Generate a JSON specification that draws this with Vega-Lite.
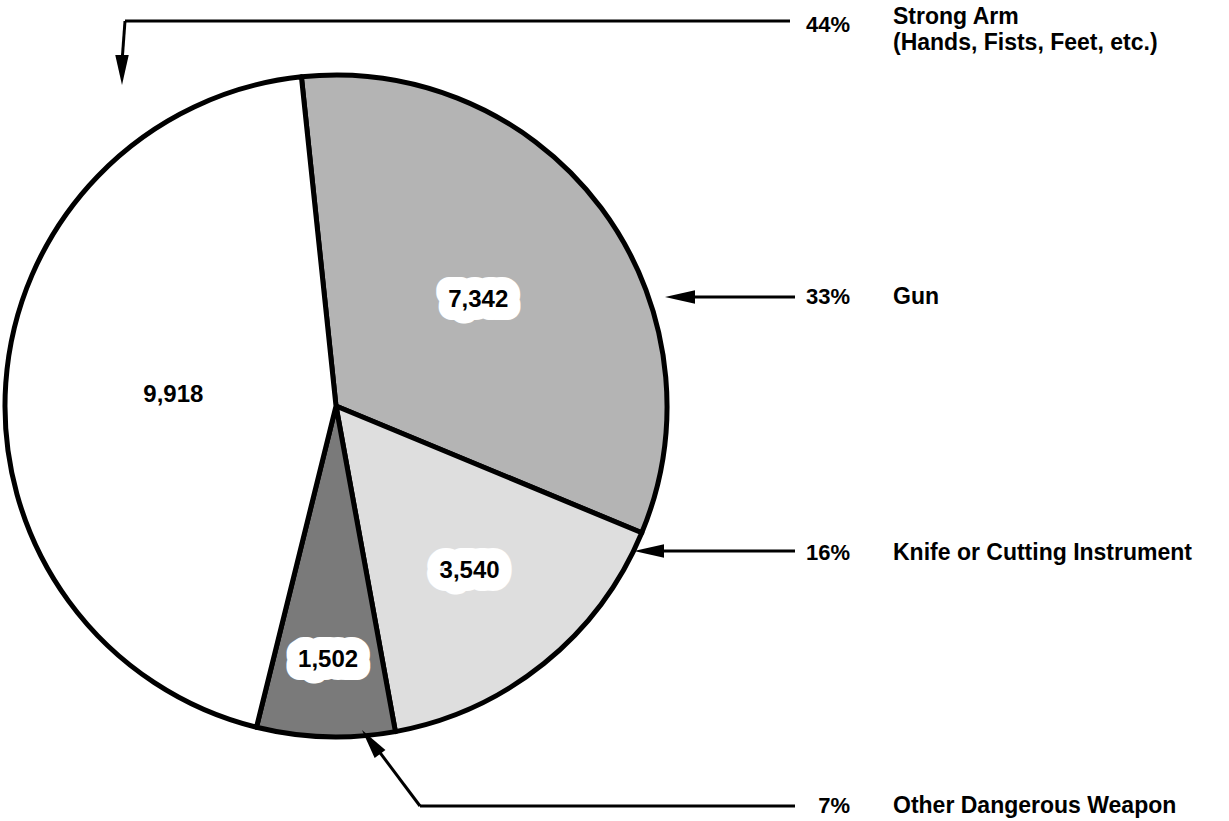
{
  "$schema": "https://vega.github.io/schema/vega-lite/v6.json",
  "width": 1229,
  "height": 821,
  "autosize": {"type": "fit", "contains": "padding"},
  "padding": 0,
  "background": "white",
  "config": {"view": {"stroke": null}, "font": "Liberation Sans"},
  "datasets": {
    "slices": [
      {"category": "Gun", "count": 7342, "pct": 33, "ord": 1},
      {"category": "Knife or Cutting Instrument", "count": 3540, "pct": 16, "ord": 2},
      {"category": "Other Dangerous Weapon", "count": 1502, "pct": 7, "ord": 3},
      {"category": "Strong Arm", "count": 9918, "pct": 44, "ord": 4}
    ],
    "leaders": [
      {"x": 790, "y": 21, "x2": 125, "y2": 21},
      {"x": 125, "y": 21, "x2": 122, "y2": 62},
      {"x": 690, "y": 297, "x2": 795, "y2": 297},
      {"x": 660, "y": 551, "x2": 795, "y2": 551},
      {"x": 420, "y": 806, "x2": 795, "y2": 806},
      {"x": 420, "y": 806, "x2": 372, "y2": 742}
    ],
    "heads": [
      {"x": 122, "y": 70, "angle": 180},
      {"x": 680, "y": 297, "angle": 270},
      {"x": 649, "y": 551, "angle": 270},
      {"x": 371, "y": 742, "angle": 323}
    ],
    "pcts": [
      {"label": "44%", "x": 850, "y": 25},
      {"label": "33%", "x": 850, "y": 297},
      {"label": "16%", "x": 850, "y": 553},
      {"label": "7%", "x": 850, "y": 806}
    ],
    "names": [
      {"label": "Strong Arm", "x": 893, "y": 17},
      {"label": "(Hands, Fists, Feet, etc.)", "x": 893, "y": 43},
      {"label": "Gun", "x": 893, "y": 297},
      {"label": "Knife or Cutting Instrument", "x": 893, "y": 553},
      {"label": "Other Dangerous Weapon", "x": 893, "y": 806}
    ]
  },
  "layer": [
    {
      "data": {"name": "slices"},
      "encoding": {
        "x": {"datum": 336, "type": "quantitative", "scale": {"domain": [0, 1229], "nice": false, "zero": false}, "axis": null},
        "y": {"datum": 406, "type": "quantitative", "scale": {"domain": [0, 821], "nice": false, "zero": false, "reverse": true}, "axis": null},
        "theta": {"field": "count", "type": "quantitative", "stack": true, "scale": {"range": [-0.1047, 6.1785]}},
        "order": {"field": "ord", "type": "quantitative", "sort": "ascending"}
      },
      "layer": [
        {
          "mark": {"type": "arc", "outerRadius": 331, "stroke": "black", "strokeWidth": 5, "strokeJoin": "round"},
          "encoding": {
            "fill": {
              "field": "category", "type": "nominal", "legend": null,
              "scale": {
                "domain": ["Gun", "Knife or Cutting Instrument", "Other Dangerous Weapon", "Strong Arm"],
                "range": ["#b4b4b4", "#dedede", "#7a7a7a", "#ffffff"]
              }
            }
          }
        },
        {
          "mark": {"type": "text", "fontWeight": "bold", "fontSize": 24, "fill": "white", "stroke": "white", "strokeWidth": 26, "strokeJoin": "round", "align": "center", "baseline": "middle"},
          "encoding": {
            "text": {"field": "count", "type": "quantitative", "format": ","},
            "radius": {"field": "count", "type": "quantitative", "scale": {"type": "log", "domain": [1502, 9918], "range": [254, 163]}}
          }
        },
        {
          "mark": {"type": "text", "fontWeight": "bold", "fontSize": 24, "fill": "black", "align": "center", "baseline": "middle"},
          "encoding": {
            "text": {"field": "count", "type": "quantitative", "format": ","},
            "radius": {"field": "count", "type": "quantitative", "scale": {"type": "log", "domain": [1502, 9918], "range": [254, 163]}}
          }
        }
      ]
    },
    {
      "data": {"name": "leaders"},
      "mark": {"type": "rule", "stroke": "black", "strokeWidth": 3},
      "encoding": {
        "x": {"field": "x", "type": "quantitative", "scale": {"domain": [0, 1229], "nice": false, "zero": false}, "axis": null},
        "x2": {"field": "x2"},
        "y": {"field": "y", "type": "quantitative", "scale": {"domain": [0, 821], "nice": false, "zero": false, "reverse": true}, "axis": null},
        "y2": {"field": "y2"}
      }
    },
    {
      "data": {"name": "heads"},
      "mark": {"type": "point", "shape": "M0,-1L0.45,1L-0.45,1Z", "filled": true, "color": "black", "opacity": 1, "size": 900},
      "encoding": {
        "x": {"field": "x", "type": "quantitative", "scale": {"domain": [0, 1229], "nice": false, "zero": false}, "axis": null},
        "y": {"field": "y", "type": "quantitative", "scale": {"domain": [0, 821], "nice": false, "zero": false, "reverse": true}, "axis": null},
        "angle": {"field": "angle", "type": "quantitative", "scale": null}
      }
    },
    {
      "data": {"name": "pcts"},
      "mark": {"type": "text", "fontWeight": "bold", "fontSize": 22, "align": "right", "baseline": "middle", "color": "black"},
      "encoding": {
        "x": {"field": "x", "type": "quantitative", "scale": {"domain": [0, 1229], "nice": false, "zero": false}, "axis": null},
        "y": {"field": "y", "type": "quantitative", "scale": {"domain": [0, 821], "nice": false, "zero": false, "reverse": true}, "axis": null},
        "text": {"field": "label", "type": "nominal"}
      }
    },
    {
      "data": {"name": "names"},
      "mark": {"type": "text", "fontWeight": "bold", "fontSize": 23, "align": "left", "baseline": "middle", "color": "black"},
      "encoding": {
        "x": {"field": "x", "type": "quantitative", "scale": {"domain": [0, 1229], "nice": false, "zero": false}, "axis": null},
        "y": {"field": "y", "type": "quantitative", "scale": {"domain": [0, 821], "nice": false, "zero": false, "reverse": true}, "axis": null},
        "text": {"field": "label", "type": "nominal"}
      }
    }
  ]
}
